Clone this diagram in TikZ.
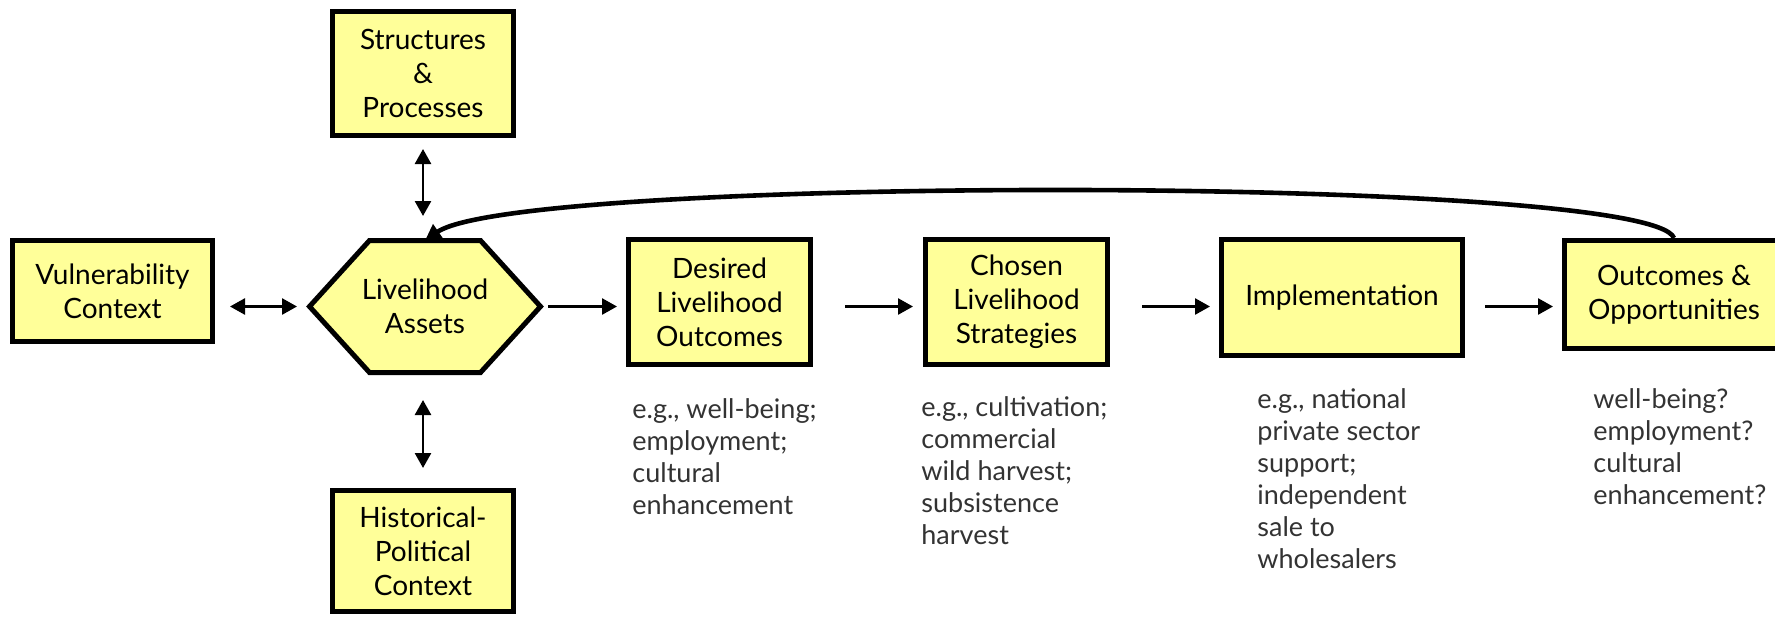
\documentclass[tikz,border=0pt]{standalone}
\usepackage{fontspec}
\setmainfont{Lato}
\usepackage{xcolor}
\usetikzlibrary{arrows.meta, backgrounds}

\definecolor{boxyellow}{HTML}{FFFF99}
\definecolor{notegray}{HTML}{333333}

\tikzset{
	box/.style = {draw, fill = boxyellow, line width = 2.5pt, align = center, inner sep = 0pt, font = \fontsize{14pt}{17pt}\selectfont},
	hexnode/.style = {inner sep = 0pt, outer sep = 0pt, align = center, minimum width = 115.5pt, minimum height = 66pt, font = \fontsize{14pt}{17pt}\selectfont},
	note/.style = {anchor = north west, align = left, inner sep = 0pt, text = notegray, font = \fontsize{13.5pt}{16pt}\selectfont},
	tip/.tip = {Triangle[length = 7.5pt, width = 8pt]},
	flow/.style = {line width = 1.3pt, -tip},
	twoway/.style = {line width = 1.3pt, tip-tip},
	feedback/.style = {line width = 2.3pt, -{Triangle[length = 8pt, width = 8.5pt]}}
}

\begin{document}
\begin{tikzpicture}[x = 0.5pt, y = -0.5pt]
			\useasboundingbox (0,0) rectangle (1775,616);

			% boxes
			\begin{scope}
				\node [box, minimum width = 90.5pt, minimum height = 62pt] (structures) at (423,73.5) {Structures\\\&\\Processes};
				\node [box, minimum width = 100pt, minimum height = 50.5pt] (vulnerability) at (112.5,291) {Vulnerability\\Context};
				\node [hexnode] (assets) at (425,306.5) {Livelihood\\Assets};
				\node [box, minimum width = 90.5pt, minimum height = 60.5pt] (historical) at (423,551) {Historical-\\Political\\Context};
				\node [box, minimum width = 91pt, minimum height = 62.5pt] (desired) at (719.5,302) {Desired\\Livelihood\\Outcomes};
				\node [box, minimum width = 91pt, minimum height = 62.5pt] (chosen) at (1016.5,302) {Chosen\\Livelihood\\Strategies};
				\node [box, minimum width = 120.5pt, minimum height = 58pt] (implementation) at (1342,297.5) {Implementation};
				\node [box, minimum width = 109.5pt, minimum height = 54pt] (outcomes) at (1674,294.5) {Outcomes \&\\Opportunities};
			\end{scope}

			\begin{pgfonlayer}{background}
				\draw [line width = 2.5pt, fill = boxyellow] (assets.west) -- ([xshift = -27.75pt]assets.north) -- ([xshift = 27.75pt]assets.north) -- (assets.east) -- ([xshift = 27.75pt]assets.south) -- ([xshift = -27.75pt]assets.south) -- cycle;
			\end{pgfonlayer}

			% notes
			\begin{scope}
				\node [note] (desirednote) at (632,398) {e.g., well-being;\\employment;\\cultural\\enhancement};
				\node [note] (chosennote) at (921,396) {e.g., cultivation;\\commercial\\wild harvest;\\subsistence\\harvest};
				\node [note] (implementationnote) at (1257,388) {e.g., national\\private sector\\support;\\independent\\sale to\\wholesalers};
				\node [note] (outcomesnote) at (1593,388) {well-being?\\employment?\\cultural\\enhancement?};
			\end{scope}

			% arrows
			\begin{scope}
				\draw [twoway, shorten < = 7.5pt, shorten > = 6.25pt] (vulnerability.east |- assets.west) -- (assets.west);
				\draw [twoway, shorten < = 5.5pt, shorten > = 12.25pt] (structures.south) -- (structures.south |- assets.north);
				\draw [twoway, shorten < = 13.75pt, shorten > = 10pt] (historical.north |- assets.south) -- (historical.north);
				\draw [flow, shorten < = 3.75pt, shorten > = 4.5pt] (assets.east) -- (desired.west |- assets.east);
				\draw [flow, shorten < = 16pt, shorten > = 5pt] (desired.east |- assets.east) -- (chosen.west |- assets.east);
				\draw [flow, shorten < = 16pt, shorten > = 4.5pt] (chosen.east |- assets.east) -- (implementation.west |- assets.east);
				\draw [flow, shorten < = 10pt, shorten > = 4.5pt] (implementation.east |- assets.east) -- (outcomes.west |- assets.east);
				\draw [feedback] (outcomes.north) .. controls (1650,175) and (520,175) .. (assets.north);
			\end{scope}
		\end{tikzpicture}
\end{document}
